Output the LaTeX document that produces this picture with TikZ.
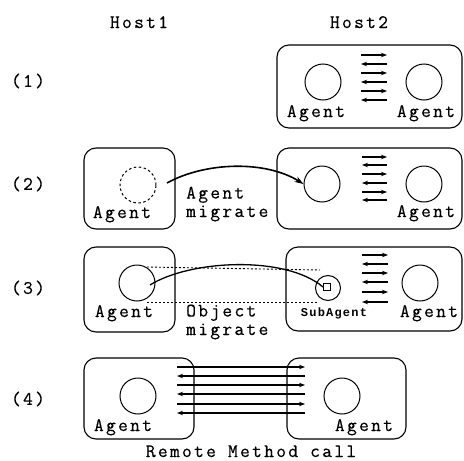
\documentclass[tikz,border=0pt]{standalone}
\usepackage{fontspec}
\setmonofont{Latin Modern Mono}[LetterSpace=12,FakeBold=0.4]
\newfontfamily\subfont{Liberation Mono}[LetterSpace=10]
\usetikzlibrary{arrows.meta}
\begin{document}
\begin{tikzpicture}[x=1pt,y=-1pt,
  hostbox/.style={draw,line width=1.1pt,rounded corners=12pt,inner sep=0pt},
  agent/.style={draw,circle,line width=1pt,minimum size=36pt,inner sep=0pt},
  ghost/.style={agent,dashed,dash pattern=on 2.5pt off 2.5pt},
  subag/.style={draw,circle,line width=1pt,minimum size=25pt,inner sep=0pt},
  lbl/.style={font=\ttfamily\fontsize{19}{18.5}\selectfont,inner sep=0pt,anchor=base},
  lbll/.style={lbl,anchor=base west,align=left},
  num/.style={font=\ttfamily\fontsize{19}{19}\selectfont,inner sep=0pt},
  sublbl/.style={font=\subfont\bfseries\fontsize{12}{12}\selectfont,inner sep=0pt,anchor=base},
  msg/.style={line width=1.1pt,-{Stealth[length=6pt,width=4.5pt]}},
  migr/.style={line width=1.6pt},
  trace/.style={line width=0.9pt,dash pattern=on 2pt off 2pt}]
\useasboundingbox (0,0) rectangle (464,461);

% headings
\node[lbl] (h1) at (139,28) {Host1};
\node[lbl] (h2) at (359,28) {Host2};
\node[num] (n1) at (28,81) {(1)};
\node[num] (n2) at (28,184) {(2)};
\node[num] (n3) at (28,288) {(3)};
\node[num] (n4) at (28,399) {(4)};

% ---- row 1
\node[hostbox,minimum width=185pt,minimum height=83pt] (b1r) at (369.5,86.5) {};
\node[agent] (c1a) at (323,82) {};
\node[agent] (c1b) at (424,82) {};
\node[lbl] (l1a) at (316,117) {Agent};
\node[lbl] (l1b) at (426,117) {Agent};
\foreach \y/\d in {55/0,64/1,73/0,82/1,91/0,100/1}{
  \ifnum\d=0 \draw[msg] (361,\y) -- (387,\y); \else \draw[msg] (387,\y) -- (361,\y); \fi
}

% ---- row 2
\node[hostbox,minimum width=91pt,minimum height=81pt] (b2l) at (129.5,188.5) {};
\node[hostbox,minimum width=185pt,minimum height=81pt] (b2r) at (369.5,188.5) {};
\node[ghost] (c2g) at (138,185) {};
\node[agent] (c2a) at (322,184) {};
\node[agent] (c2b) at (424,184) {};
\node[lbl] (l2a) at (122,218) {Agent};
\node[lbl] (l2b) at (426,217) {Agent};
\node[lbll] (m2) at (186,217) {Agent\\migrate};
\coordinate (s2) at (167,183);
\draw[migr,-{Stealth[length=9pt,width=6pt]}] (s2) .. controls (205,162) and (265,160) .. (c2a.west);
\foreach \y/\d in {157/0,165/1,174/0,183/1,192/0,200/1}{
  \ifnum\d=0 \draw[msg] (362,\y) -- (387,\y); \else \draw[msg] (387,\y) -- (362,\y); \fi
}

% ---- row 3
\node[hostbox,minimum width=91pt,minimum height=85pt] (b3l) at (129.5,289.5) {};
\node[hostbox,minimum width=176pt,minimum height=84pt] (b3r) at (374,289) {};
\node[agent] (c3a) at (137,283) {};
\node[subag] (c3s) at (328,288) {};
\node[draw,line width=1pt,minimum size=7pt,inner sep=0pt] (sq) at (327,287) {};
\node[agent] (c3b) at (420,283) {};
\node[lbl] (l3a) at (124,317) {Agent};
\node[sublbl] (l3s) at (334,316) {SubAgent};
\node[lbl] (l3b) at (429,317) {Agent};
\node[lbll] (m3) at (186,335) {Object\\migrate};
\coordinate (t1) at (147,267);
\coordinate (t2) at (320,270);
\coordinate (u1) at (147,302);
\coordinate (u2) at (318,302);
\draw[trace] (t1) -- (t2);
\draw[trace] (u1) -- (u2);
\coordinate (s3) at (150,285);
\draw[migr,line width=1.3pt] (s3) .. controls (190,260) and (285,255) .. (sq.west);
\foreach \y/\d in {255/0,264/1,273/0,282/1,292/0,302/1}{
  \ifnum\d=0 \draw[msg] (362,\y) -- (388,\y); \else \draw[msg] (388,\y) -- (362,\y); \fi
}

% ---- row 4
\node[hostbox,minimum width=110pt,minimum height=81pt] (b4l) at (139,398.5) {};
\node[hostbox,minimum width=119pt,minimum height=81pt] (b4r) at (346.5,398.5) {};
\node[agent] (c4a) at (138,396) {};
\node[agent] (c4b) at (342,396) {};
\node[lbl] (l4a) at (123,431) {Agent};
\node[lbl] (l4b) at (364,431) {Agent};
\node[lbl] (rmc) at (251,457) {Remote Method call};
\foreach \y/\d in {367/0,376/1,385/0,394/1,404/0,413/1}{
  \ifnum\d=0 \draw[msg] (177,\y) -- (305,\y); \else \draw[msg] (305,\y) -- (177,\y); \fi
}
\end{tikzpicture}
\end{document}
